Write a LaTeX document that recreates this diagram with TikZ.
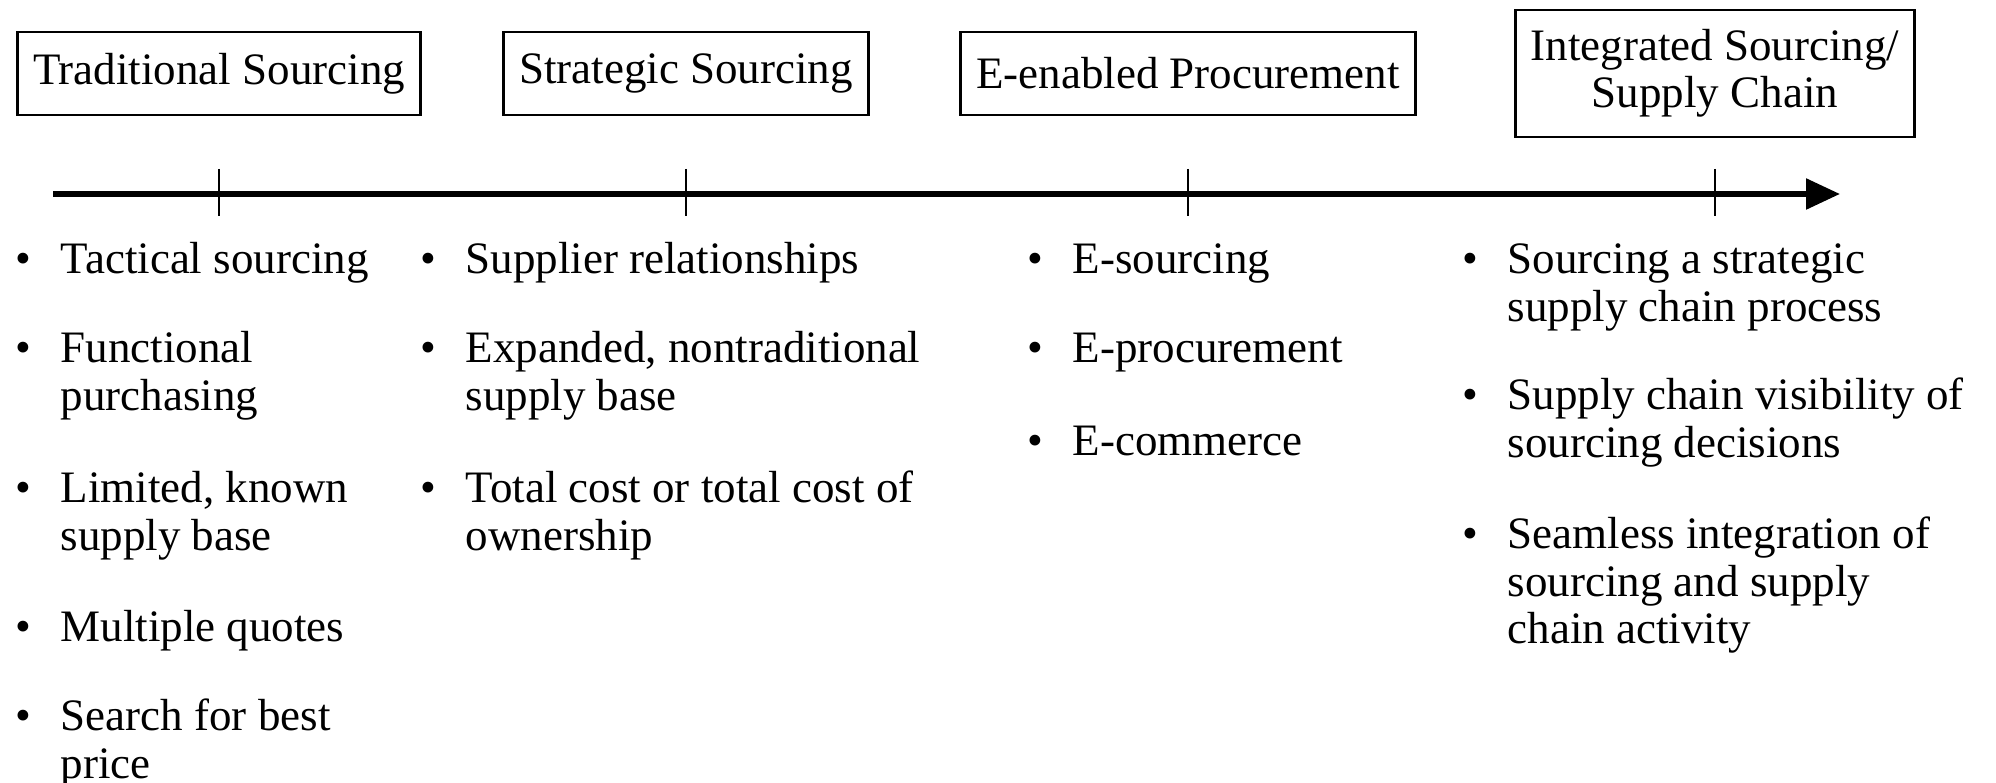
\documentclass[tikz,border=0pt]{standalone}
\usepackage{fontspec}
\setmainfont{Liberation Serif}
\usetikzlibrary{arrows.meta}
\newcommand{\bitem}[1]{\makebox[0.45cm][l]{\textbullet}\parbox[t]{5cm}{\raggedright #1}}

\begin{document}
\begin{tikzpicture}[
		stage/.style={draw,line width=0.8pt,inner xsep=4.4pt,inner ysep=0pt,minimum height=0.83cm,align=center},
		item/.style={anchor=base west,inner sep=0pt},
		font=\fontsize{12.8}{13.4}\selectfont]
		\useasboundingbox (0,0) rectangle (19.96,-7.83);
		
		\node[stage] (trad) at (2.19,-0.735) {Traditional Sourcing};
		\node[stage] (strat) at (6.86,-0.735) {Strategic Sourcing};
		\node[stage] (eproc) at (11.88,-0.735) {E-enabled Procurement};
		\node[stage,minimum height=1.27cm] (integ) at (17.15,-0.735) {Integrated Sourcing/\\Supply Chain};
		
		\coordinate (start) at (0.53,-1.94);
		\coordinate (end) at (18.40,-1.94);
		\draw[line width=1.6pt,-{Triangle[length=0.34cm,width=0.3cm]}] (start) -- (end);
		\foreach \s in {trad,strat,eproc,integ}{
			\path (\s.south |- start) coordinate (tick\s);
			\draw[line width=0.6pt] ([yshift=0.25cm]tick\s) -- ([yshift=-0.22cm]tick\s);
		}
		
		\node[item] (t1) at (0.15,-2.74) {\bitem{Tactical sourcing}};
		\node[item] (t2) at (0.15,-3.63) {\bitem{Functional\\purchasing}};
		\node[item] (t3) at (0.15,-5.03) {\bitem{Limited, known\\supply base}};
		\node[item] (t4) at (0.15,-6.42) {\bitem{Multiple quotes}};
		\node[item] (t5) at (0.15,-7.31) {\bitem{Search for best\\price}};
		
		\node[item] (s1) at (4.20,-2.74) {\bitem{Supplier relationships}};
		\node[item] (s2) at (4.20,-3.63) {\bitem{Expanded, nontraditional\\supply base}};
		\node[item] (s3) at (4.20,-5.03) {\bitem{Total cost or total cost of\\ownership}};
		
		\node[item] (e1) at (10.27,-2.74) {\bitem{E-sourcing}};
		\node[item] (e2) at (10.27,-3.63) {\bitem{E-procurement}};
		\node[item] (e3) at (10.27,-4.56) {\bitem{E-commerce}};
		
		\node[item] (i1) at (14.62,-2.74) {\bitem{Sourcing a strategic\\supply chain process}};
		\node[item] (i2) at (14.62,-4.10) {\bitem{Supply chain visibility of\\sourcing decisions}};
		\node[item] (i3) at (14.62,-5.49) {\bitem{Seamless integration of\\sourcing and supply\\chain activity}};
		
\end{tikzpicture}
\end{document}
